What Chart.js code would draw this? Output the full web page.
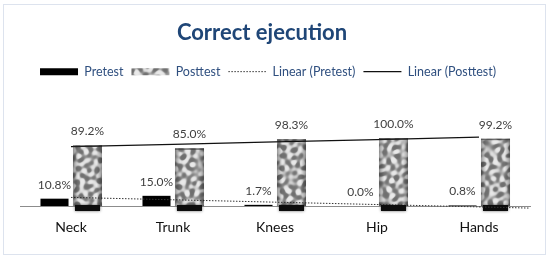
<!DOCTYPE html>
<html>
<head>
<meta charset="utf-8">
<script src="https://cdn.jsdelivr.net/npm/chart.js@4.4.0/dist/chart.umd.min.js"></script>
<style>
  html, body { margin: 0; padding: 0; background: #ffffff; }
  #wrap { position: relative; width: 550px; height: 261px; overflow: hidden; }
  #frame { position: absolute; left: 3px; top: 4px; width: 541px; height: 249px; border: 1px solid #dde3ee; }
  #c { position: absolute; left: 0; top: 0; }
</style>
</head>
<body>
<div id="wrap">
  <div id="frame"></div>
  <canvas id="c" width="550" height="261"></canvas>
</div>
<script>
// ---- data ----
const categories = ['Neck', 'Trunk', 'Knees', 'Hip', 'Hands'];
const pretest = [10.8, 15.0, 1.7, 0.0, 0.8];
const posttest = [89.2, 85.0, 98.3, 100.0, 99.2];
const seriesNames = ['Pretest', 'Posttest', 'Linear (Pretest)', 'Linear (Posttest)'];

// least-squares linear trend (what a "Linear" trendline shows)
function linearFit(values) {
  const n = values.length;
  const xs = values.map((_, i) => i + 1);
  const mx = xs.reduce((a, b) => a + b, 0) / n;
  const my = values.reduce((a, b) => a + b, 0) / n;
  let sxy = 0, sxx = 0;
  xs.forEach((x, i) => { sxy += (x - mx) * (values[i] - my); sxx += (x - mx) * (x - mx); });
  const slope = sxy / sxx;
  return xs.map(x => my + slope * (x - mx));
}

// ---- mottled grey texture for the Posttest bars (deterministic sine mix) ----
function makeTexture(w, h) {
  const off = document.createElement('canvas');
  off.width = w; off.height = h;
  const g = off.getContext('2d');
  const img = g.createImageData(w, h);
  const waves = [];
  for (let k = 0; k < 14; k++) {
    const ang = k * 2.399963;            // golden-angle spread of directions
    const f = 0.55 + 0.45 * ((k * 0.618034) % 1);
    waves.push([f * Math.cos(ang), f * Math.sin(ang), k * 1.3]);
  }
  for (let y = 0; y < h; y++) {
    for (let x = 0; x < w; x++) {
      let v = 0;
      for (const [fx, fy, ph] of waves) v += Math.sin(fx * x + fy * y + ph);
      v = v / Math.sqrt(waves.length * 0.5);
      v = Math.tanh(v * 1.1);
      const c = Math.round(172 + 62 * v);
      const i = (y * w + x) * 4;
      img.data[i] = c; img.data[i + 1] = c; img.data[i + 2] = c; img.data[i + 3] = 255;
    }
  }
  g.putImageData(img, 0, 0);
  return g.createPattern(off, 'repeat');
}
const ctx = document.getElementById('c').getContext('2d');
const texture = makeTexture(550, 261);

const FONT = 'Lato, "Open Sans", sans-serif';

// shift title + legend a bit left (as in the reference)
const shiftPlugin = {
  id: 'shift',
  afterLayout(chart) {
    if (chart.titleBlock) { chart.titleBlock.left -= 13; chart.titleBlock.right -= 13; }
    if (chart.legend) { chart.legend.left -= 7; chart.legend.right -= 7; }
  }
};

// bar decoration (shadow foot + rounded shading) and value labels
const decoPlugin = {
  id: 'deco',
  afterDatasetsDraw(chart) {
    const c = chart.ctx;
    const area = chart.chartArea;
    const metaPost = chart.getDatasetMeta(1);
    metaPost.data.forEach(el => {
      const left = el.x - el.width / 2, w = el.width;
      c.save();
      const gr = c.createLinearGradient(left, 0, left + w, 0);
      gr.addColorStop(0, 'rgba(0,0,0,0.35)');
      gr.addColorStop(0.18, 'rgba(0,0,0,0.0)');
      gr.addColorStop(0.82, 'rgba(0,0,0,0.0)');
      gr.addColorStop(1, 'rgba(0,0,0,0.35)');
      c.fillStyle = gr;
      c.fillRect(left, el.y, w, el.base - el.y);
      c.fillStyle = 'rgba(40,40,40,0.6)';
      c.fillRect(left, el.y, w, 1.5);
      c.shadowColor = 'rgba(0,0,0,0.6)';
      c.shadowBlur = 3;
      c.fillStyle = '#0d0d0d';
      c.fillRect(left + 2, el.base - 1, w - 4, 6);
      c.restore();
    });
    // extend the pretest trendline to the right edge of the plot
    const pts = chart.getDatasetMeta(2).data;
    if (pts.length > 1) {
      const p3 = pts[pts.length - 2], p4 = pts[pts.length - 1];
      const slope = (p4.y - p3.y) / (p4.x - p3.x);
      c.save();
      c.strokeStyle = '#333';
      c.lineWidth = 1;
      c.setLineDash([1.5, 1.5]);
      c.beginPath();
      c.moveTo(p4.x, p4.y);
      c.lineTo(area.right, p4.y + slope * (area.right - p4.x));
      c.stroke();
      c.restore();
    }
    // value labels
    c.save();
    c.font = '12px ' + FONT;
    c.fillStyle = '#404040';
    c.textAlign = 'center';
    c.textBaseline = 'middle';
    [0, 1].forEach(di => {
      const meta = chart.getDatasetMeta(di);
      const vals = chart.data.datasets[di].data;
      meta.data.forEach((el, i) => {
        c.fillText(vals[i].toFixed(1) + '%', el.x, el.y - 14);
      });
    });
    c.restore();
  }
};

new Chart(ctx, {
  type: 'bar',
  data: {
    labels: categories,
    datasets: [
      { label: seriesNames[0], data: pretest, backgroundColor: '#000000', order: 2,
        categoryPercentage: 0.647, barPercentage: 0.85 },
      { label: seriesNames[1], data: posttest, backgroundColor: texture, order: 2,
        categoryPercentage: 0.647, barPercentage: 0.88 },
      { type: 'line', label: seriesNames[2], data: linearFit(pretest), borderColor: '#333333',
        borderWidth: 1, borderDash: [1.5, 1.5], pointRadius: 0, fill: false, order: 1, clip: false },
      { type: 'line', label: seriesNames[3], data: linearFit(posttest), borderColor: '#111111',
        borderWidth: 1.3, pointRadius: 0, fill: false, order: 1, clip: false }
    ]
  },
  options: {
    responsive: false,
    animation: false,
    devicePixelRatio: 1,
    layout: { padding: { left: 20, right: 20, top: 0, bottom: 12.2 } },
    plugins: {
      title: {
        display: true,
        text: 'Correct ejecution',
        color: '#1f4677',
        font: { family: FONT, size: 22, weight: 'bold' },
        padding: { top: 20, bottom: 11 }
      },
      legend: {
        display: true,
        position: 'top',
        labels: {
          color: '#2f4f7f',
          font: { family: FONT, size: 12.5 },
          usePointStyle: true,
          pointStyleWidth: 38,
          boxHeight: 7,
          padding: 8,
          generateLabels(chart) {
            return chart.data.datasets.map((ds, i) => {
              const isLine = ds.type === 'line';
              return {
                text: ds.label,
                datasetIndex: i,
                fillStyle: isLine ? 'rgba(0,0,0,0)' : ds.backgroundColor,
                strokeStyle: isLine ? ds.borderColor : 'rgba(0,0,0,0)',
                lineWidth: isLine ? ds.borderWidth : 0,
                lineDash: isLine && ds.borderDash ? ds.borderDash : [],
                pointStyle: isLine ? 'line' : 'rect',
                fontColor: '#2f4f7f',
                hidden: false
              };
            });
          }
        }
      },
      tooltip: { enabled: false }
    },
    scales: {
      x: {
        offset: true,
        grid: { display: false, drawTicks: false },
        border: { display: true, color: '#8c8c8c', width: 1 },
        ticks: { color: '#111111', font: { family: FONT, size: 14 }, padding: 13 }
      },
      y: {
        display: false,
        min: 0,
        max: 174
      }
    }
  },
  plugins: [shiftPlugin, decoPlugin]
});
</script>
</body>
</html>
